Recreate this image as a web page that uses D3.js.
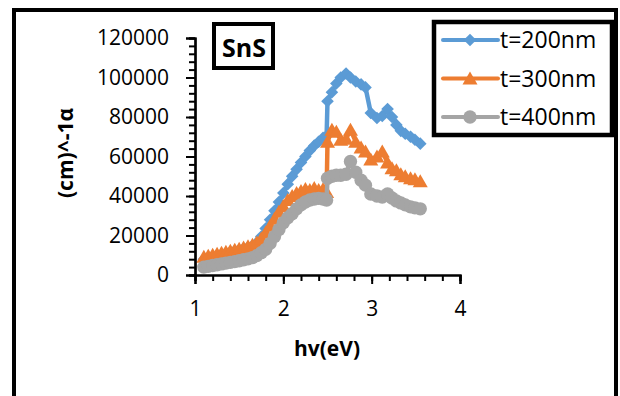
<!DOCTYPE html>
<html>
<head>
<meta charset="utf-8">
<script src="https://cdn.jsdelivr.net/npm/d3@7"></script>
<style>
  body { margin: 0; background: #fff; }
  text { font-family: "Open Sans", sans-serif; fill: #000; }
</style>
</head>
<body>
<div id="vis"></div>
<script>
// photon energy (eV)
var hv = [1.10, 1.15, 1.20, 1.25, 1.30, 1.35, 1.40, 1.45, 1.50, 1.55, 1.60, 1.65, 1.70, 1.75, 1.80,
          1.85, 1.90, 1.95, 2.00, 2.05, 2.10, 2.15, 2.20, 2.25, 2.30, 2.35, 2.40, 2.45, 2.49,
          2.50, 2.55, 2.60, 2.65, 2.71, 2.76, 2.82, 2.88, 2.93, 2.99, 3.06, 3.12, 3.18, 3.23,
          3.28, 3.33, 3.38, 3.44, 3.49, 3.55];

// absorption coefficient per thickness
var t200 = [8000, 8600, 9200, 9800, 10400, 11000, 11600, 12200, 12800, 13400, 14000, 14800, 16500, 19500, 23500,
            28000, 32500, 37000, 41500, 46000, 50000, 53500, 57000, 60000, 63000, 65500, 67500, 69500, 70500,
            88000, 92500, 97000, 100000, 102000, 100000, 98000, 96500, 95000, 82000, 79500, 80500, 84000, 80000,
            76000, 73000, 71500, 70000, 68500, 66500];
var t300 = [9200, 9800, 10300, 10800, 11300, 11800, 12300, 12800, 13300, 13900, 14500, 15300, 16500, 18500, 21500,
            25000, 28500, 32000, 35000, 38000, 40000, 41500, 42500, 43500, 43000, 44000, 43000, 43500, 42000,
            67500, 73500, 72500, 68500, 69000, 73500, 67500, 64500, 62500, 58500, 60000, 62500, 57000, 54000,
            53000, 51000, 50000, 49000, 48500, 47500];
var t400 = [4000, 4400, 4800, 5200, 5600, 6000, 6400, 6800, 7200, 7700, 8200, 8800, 9800, 11300, 13000,
            16000, 19500, 23000, 26500, 29000, 31000, 33500, 35500, 37000, 38000, 38500, 38800, 38500, 38000,
            49000, 50000, 50500, 50500, 51000, 57500, 52000, 48000, 45500, 41000, 40000, 39500, 41000, 39000,
            37500, 36500, 35500, 34500, 34000, 33500];

var seriesNames = ["t=200nm", "t=300nm", "t=400nm"];
var xTicks = [1, 2, 3, 4];
var yTicks = [0, 20000, 40000, 60000, 80000, 100000, 120000];

var w = 620;
var h = 396;

var svg = d3.select("#vis")
            .append("svg")
            .attr("width", w)
            .attr("height", h);

var x_scale = d3.scaleLinear().domain([1, 4]).range([195, 460]);
var y_scale = d3.scaleLinear().domain([0, 120000]).range([275, 38]);

var colors = d3.scaleOrdinal()
               .domain(seriesNames)
               .range(["#5B9BD5", "#ED7D31", "#A5A5A5"]);

// marker shapes (excel style)
var diamond = { draw: function(ctx, size) { var r = 6.3; ctx.moveTo(0, -r); ctx.lineTo(r, 0); ctx.lineTo(0, r); ctx.lineTo(-r, 0); ctx.closePath(); } };
var triangle = { draw: function(ctx, size) { ctx.moveTo(0, -7); ctx.lineTo(7.5, 6); ctx.lineTo(-7.5, 6); ctx.closePath(); } };
var shapes = [diamond, triangle, d3.symbolCircle];
var sizes = [40, 60, 140];

//outer frame
svg.append("rect")
   .attr("x", 14).attr("y", 10)
   .attr("width", 602).attr("height", 420)
   .attr("fill", "none")
   .attr("stroke", "#000")
   .attr("stroke-width", 4);

// cut off title glyph at the top
svg.append("text")
   .attr("x", 319).attr("y", -6)
   .attr("text-anchor", "middle")
   .style("font-size", "20px")
   .text("g");

var series = [t200, t300, t400];

var line = d3.line()
             .x(d => x_scale(d.x))
             .y(d => y_scale(d.y));

series.forEach(function(vals, i) {
    var pts = hv.map((v, j) => ({ x: v, y: vals[j] }));
    var g = svg.append("g");
    g.append("path")
     .datum(pts)
     .attr("d", line)
     .attr("fill", "none")
     .attr("stroke", colors(seriesNames[i]))
     .attr("stroke-width", 4.5)
     .attr("stroke-linejoin", "round");
    g.selectAll("path.m")
     .data(pts)
     .enter()
     .append("path")
     .attr("class", "m")
     .attr("d", d3.symbol().type(shapes[i]).size(sizes[i]))
     .attr("transform", d => `translate(${x_scale(d.x)},${y_scale(d.y)})`)
     .attr("fill", colors(seriesNames[i]));
});

// axes
var yAxis = svg.append("g")
   .attr("transform", "translate(195,0)")
   .call(d3.axisLeft(y_scale).tickValues(yTicks).tickSize(9).tickPadding(17).tickFormat(d3.format("d")));
var yMinor = svg.append("g")
   .attr("transform", "translate(195,0)")
   .call(d3.axisLeft(y_scale).tickValues(d3.range(0, 120001, 4000)).tickSize(6).tickFormat(""));
var xAxis = svg.append("g")
   .attr("transform", "translate(0,275)")
   .call(d3.axisBottom(x_scale).tickValues(xTicks).tickSize(9).tickPadding(17).tickFormat(d3.format("d")));
var xMinor = svg.append("g")
   .attr("transform", "translate(0,275)")
   .call(d3.axisBottom(x_scale).tickValues(d3.range(1, 4.01, 0.2)).tickSize(6).tickFormat(""));

[yAxis, yMinor, xAxis, xMinor].forEach(function(a) {
    a.selectAll("path.domain").attr("stroke", "#000").attr("stroke-width", 2.2);
    a.selectAll("line").attr("stroke", "#000").attr("stroke-width", 2);
    a.selectAll("text").style("font-size", "21px").attr("fill", "#000").style("font-family", "'Open Sans', sans-serif");
});

// axis titles
svg.append("text")
   .attr("x", 327).attr("y", 356)
   .attr("text-anchor", "middle")
   .style("font-size", "21px")
   .style("font-weight", "bold")
   .text("hv(eV)");

svg.append("text")
   .attr("transform", "translate(73,153) rotate(-90)")
   .attr("text-anchor", "middle")
   .style("font-size", "21px")
   .style("font-weight", "bold")
   .text("(cm)^-1α");

// SnS label box
svg.append("rect")
   .attr("x", 214).attr("y", 24)
   .attr("width", 59).attr("height", 44)
   .attr("fill", "#fff")
   .attr("stroke", "#000")
   .attr("stroke-width", 4);
svg.append("text")
   .attr("x", 244).attr("y", 57)
   .attr("text-anchor", "middle")
   .style("font-size", "25px")
   .style("font-weight", "bold")
   .text("SnS");

// legend
var legend = svg.append("g");
legend.append("rect")
      .attr("x", 434).attr("y", 22)
      .attr("width", 178).attr("height", 113)
      .attr("fill", "#fff")
      .attr("stroke", "#000")
      .attr("stroke-width", 4.5);

var item = legend.selectAll("g.item")
      .data(seriesNames)
      .enter()
      .append("g")
      .attr("class", "item")
      .attr("transform", (d, i) => `translate(0,${40 + i * 38.5})`);

item.append("line")
    .attr("x1", 443).attr("x2", 498)
    .attr("stroke", d => colors(d))
    .attr("stroke-width", 4)
    .attr("stroke-linecap", "round");
item.append("path")
    .attr("d", (d, i) => d3.symbol().type(shapes[i]).size(sizes[i])())
    .attr("transform", "translate(470,0)")
    .attr("fill", d => colors(d));
item.append("text")
    .attr("x", 500).attr("y", 8)
    .style("font-size", "23px")
    .text(d => d);
</script>
</body>
</html>
